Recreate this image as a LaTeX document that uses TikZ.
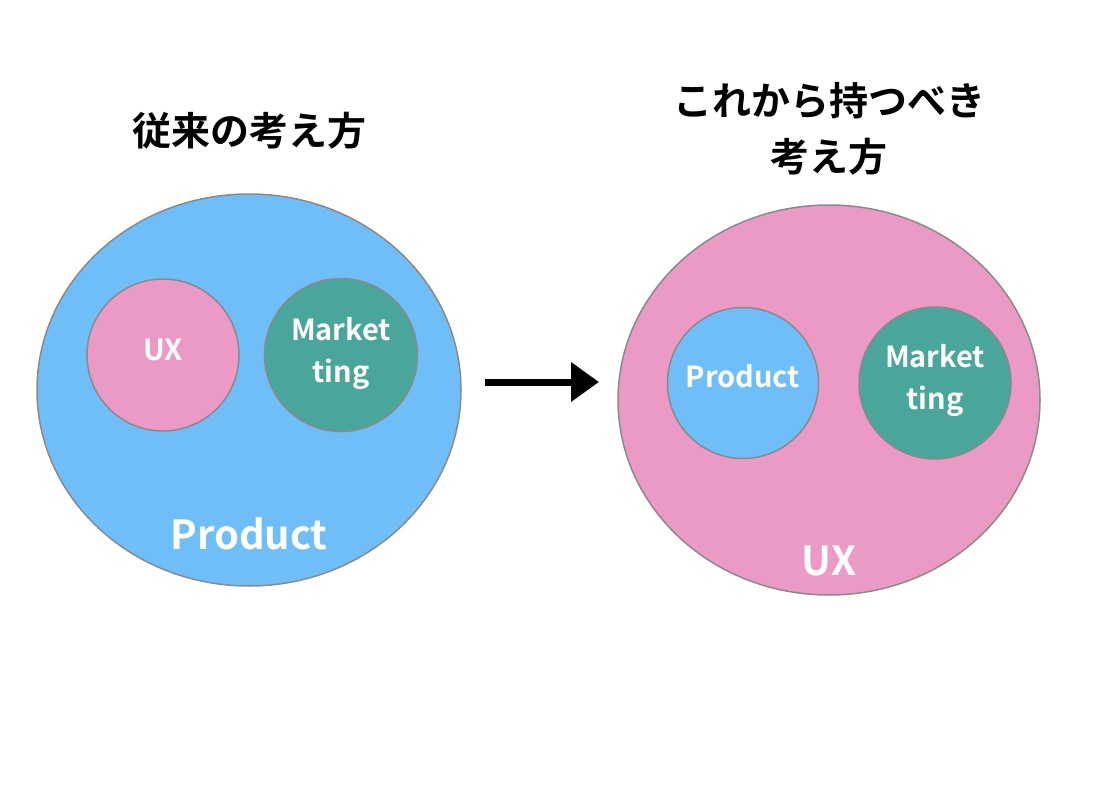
\documentclass[tikz,border=0pt]{standalone}
\usepackage{fontspec}
\setmainfont{Noto Sans CJK JP}[BoldFont={* Bold}]
\usetikzlibrary{arrows.meta}
\definecolor{pblue}{HTML}{6FBEF7}
\definecolor{ppink}{HTML}{EB9AC6}
\definecolor{pteal}{HTML}{4AA59B}
\definecolor{pgray}{HTML}{8A8A8A}
\tikzset{
  circ/.style={draw=pgray, line width=1.5pt},
  lbl/.style={text=white, font=\bfseries\fontsize{29}{42}\selectfont, align=center},
  biglbl/.style={text=white, font=\bfseries\fontsize{40}{44}\selectfont},
  title/.style={font=\bfseries\fontsize{39}{56}\selectfont, align=center},
}
\begin{document}
\begin{tikzpicture}[x=1pt,y=-1pt]
\useasboundingbox (0,0) rectangle (1110,786);
% left
\path[circ, fill=pblue] (249,390) ellipse [x radius=212, y radius=196];
\node[circ, fill=ppink, circle, minimum size=152] (lux) at (163,355) {};
\node[circ, fill=pteal, circle, minimum size=153] (lmk) at (341,355) {};
\node[lbl] (luxt) at (163,350) {UX};
\node[lbl] (lmkt) at (341,353) {Market\\ting};
\node[biglbl] (lprod) at (249,534) {Product};
\node[title] (ltitle) at (249,131) {従来の考え方};
% right
\path[circ, fill=ppink] (829,400) ellipse [x radius=211, y radius=195];
\node[circ, fill=pblue, circle, minimum size=151] (rprod) at (743,383) {};
\node[circ, fill=pteal, circle, minimum size=152] (rmk) at (935,383) {};
\node[lbl] (rprodt) at (743,376) {Product};
\node[lbl] (rmkt) at (935,380) {Market\\ting};
\node[biglbl] (rux) at (829,561) {UX};
\node[title] (rtitle) at (829,129) {これから持つべき\\考え方};
% arrow
\coordinate (as) at (485,382);
\coordinate (ae) at (599,382);
\draw[line width=7, -{Triangle[length=28pt,width=38pt]}] (as) -- (ae);
\end{tikzpicture}
\end{document}
